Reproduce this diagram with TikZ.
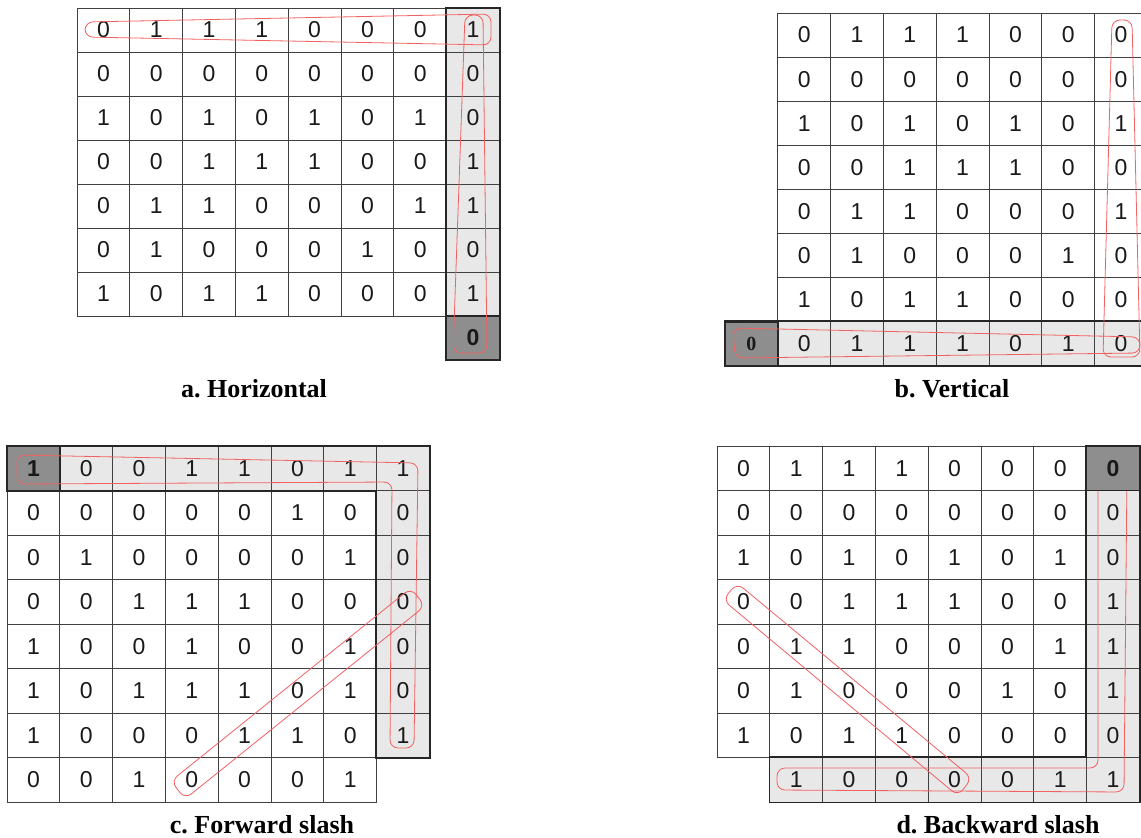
\documentclass[tikz,border=0pt]{standalone}
\usepackage{fontspec}
\setmainfont{Liberation Serif}
\setsansfont{Liberation Sans}
\usetikzlibrary{backgrounds}

\definecolor{paritygray}{HTML}{E8E8E8}
\definecolor{checkgray}{HTML}{8E8E8E}
\definecolor{scanred}{HTML}{F03838}

% name, left, top, row height, rows (x = no cell)
\newcommand{\cellgrid}[5]{%
  \foreach \row [count=\r] in {#5} {
    \foreach \v [count=\c] in \row {
      \if\v x\else
        \node[cell, minimum height=#4pt] (#1-\r-\c) at ({#2+(\c-0.5)*52.8}, {#3+(\r-0.5)*#4}) {\v};
      \fi
    }
  }%
}

\begin{document}
\begin{tikzpicture}[x=1pt, y=-1pt,
    cell/.style={draw=black!75, line width=0.8pt, minimum width=52.8pt, inner sep=0pt,
      font=\sffamily\fontsize{23}{23}\selectfont, text=black!90},
    darkcell/.style={cell, fill=checkgray, draw=black!85, line width=1.6pt,
      font=\sffamily\bfseries\fontsize{23}{23}\selectfont},
    parity/.style={draw=black!85, line width=1.8pt},
    lightfill/.style={fill=paritygray},
    scan/.style={draw=scanred!80, line width=0.8pt, rounded corners=8pt},
    caption/.style={font=\frenchspacing\bfseries\fontsize{26}{26}\selectfont, anchor=base}]
  \clip (0,0) rectangle (1141,838);

  % a. horizontal
  \cellgrid{a}{77}{8}{44}{{0,1,1,1,0,0,0,1},{0,0,0,0,0,0,0,0},{1,0,1,0,1,0,1,0},
    {0,0,1,1,1,0,0,1},{0,1,1,0,0,0,1,1},{0,1,0,0,0,1,0,0},{1,0,1,1,0,0,0,1},
    {x,x,x,x,x,x,x,0}}
  % b. vertical
  \cellgrid{b}{725}{13}{44.1}{{x,0,1,1,1,0,0,0},{x,0,0,0,0,0,0,0},{x,1,0,1,0,1,0,1},
    {x,0,0,1,1,1,0,0},{x,0,1,1,0,0,0,1},{x,0,1,0,0,0,1,0},{x,1,0,1,1,0,0,0},
    {0,0,1,1,1,0,1,0}}
  % c. forward slash
  \cellgrid{c}{7}{446}{44.5}{{1,0,0,1,1,0,1,1},{0,0,0,0,0,1,0,0},{0,1,0,0,0,0,1,0},
    {0,0,1,1,1,0,0,0},{1,0,0,1,0,0,1,0},{1,0,1,1,1,0,1,0},{1,0,0,0,1,1,0,1},
    {0,0,1,0,0,0,1,x}}
  % d. backward slash
  \cellgrid{d}{717}{446}{44.5}{{0,1,1,1,0,0,0,0},{0,0,0,0,0,0,0,0},{1,0,1,0,1,0,1,0},
    {0,0,1,1,1,0,0,1},{0,1,1,0,0,0,1,1},{0,1,0,0,0,1,0,1},{1,0,1,1,0,0,0,0},
    {x,1,0,0,0,0,1,1}}

  \begin{scope}[on background layer]
    \fill[lightfill] (a-1-8.north west) rectangle (a-7-8.south east);
    \fill[lightfill] (b-8-2.north west) rectangle (b-8-8.south east);
    \fill[lightfill] (c-1-2.north west) rectangle (c-1-8.south east);
    \fill[lightfill] (c-2-8.north west) rectangle (c-7-8.south east);
    \fill[lightfill] (d-2-8.north west) rectangle (d-8-8.south east);
    \fill[lightfill] (d-8-2.north west) rectangle (d-8-7.south east);
  \end{scope}

  \draw[parity] (a-1-8.north west) rectangle (a-8-8.south east);
  \draw[parity] (b-8-1.north west) rectangle (b-8-8.south east);
  \draw[parity] (c-1-1.north west) -- (c-1-8.north east) |- (c-7-8.south west)
    |- (c-1-1.south west) -- cycle;
  \draw[parity] (d-1-8.north west) -- (d-1-8.north east) -- (d-8-8.south east)
    -- (d-8-2.south west) |- (d-8-8.north west) -- cycle;

  \node[darkcell, minimum height=44pt] (a-chk) at (a-8-8) {0};
  \node[darkcell, minimum height=44.1pt, font=\rmfamily\bfseries\fontsize{20}{20}\selectfont] (b-chk) at (b-8-1) {0};
  \node[darkcell, minimum height=44.5pt] (c-chk) at (c-1-1) {1};

  % red scan loops
  \draw[scan] (85,22) -- (491,14) -- (491,45) -- (85,37) -- cycle;
  \draw[scan] (465,15) -- (483,15) -- (487,353) -- (453,353) -- cycle;
  \draw[scan] (1112,20) -- (1132,20) -- (1140,357) -- (1103,357) -- cycle;
  \draw[scan] (733,328) -- (1140,337) -- (1140,353) -- (735,358) -- cycle;
  \draw[scan] (17,455) -- (418,463) -- (414,748) -- (390,748) -- (392,482) -- (17,484) -- cycle;
  \draw[scan] (171,781) -- (411,588) -- (425,606) -- (185,799) -- cycle;
  \draw[scan] (1098,470) -- (1127,470) -- (1124,792) -- (777,790) -- (777,768) -- (1098,768) -- cycle;
  \draw[scan] (737,583) -- (972,778) -- (958,796) -- (723,600) -- cycle;

  \node[darkcell, minimum height=44.5pt] (d-chk) at (d-1-8) {0};

  \node[caption] (cap-a) at (254,397) {a. Horizontal};
  \node[caption] (cap-b) at (952,397) {b. Vertical};
  \node[caption] (cap-c) at (262,833) {c. Forward slash};
  \node[caption] (cap-d) at (998,833) {d. Backward slash};
\end{tikzpicture}
\end{document}
